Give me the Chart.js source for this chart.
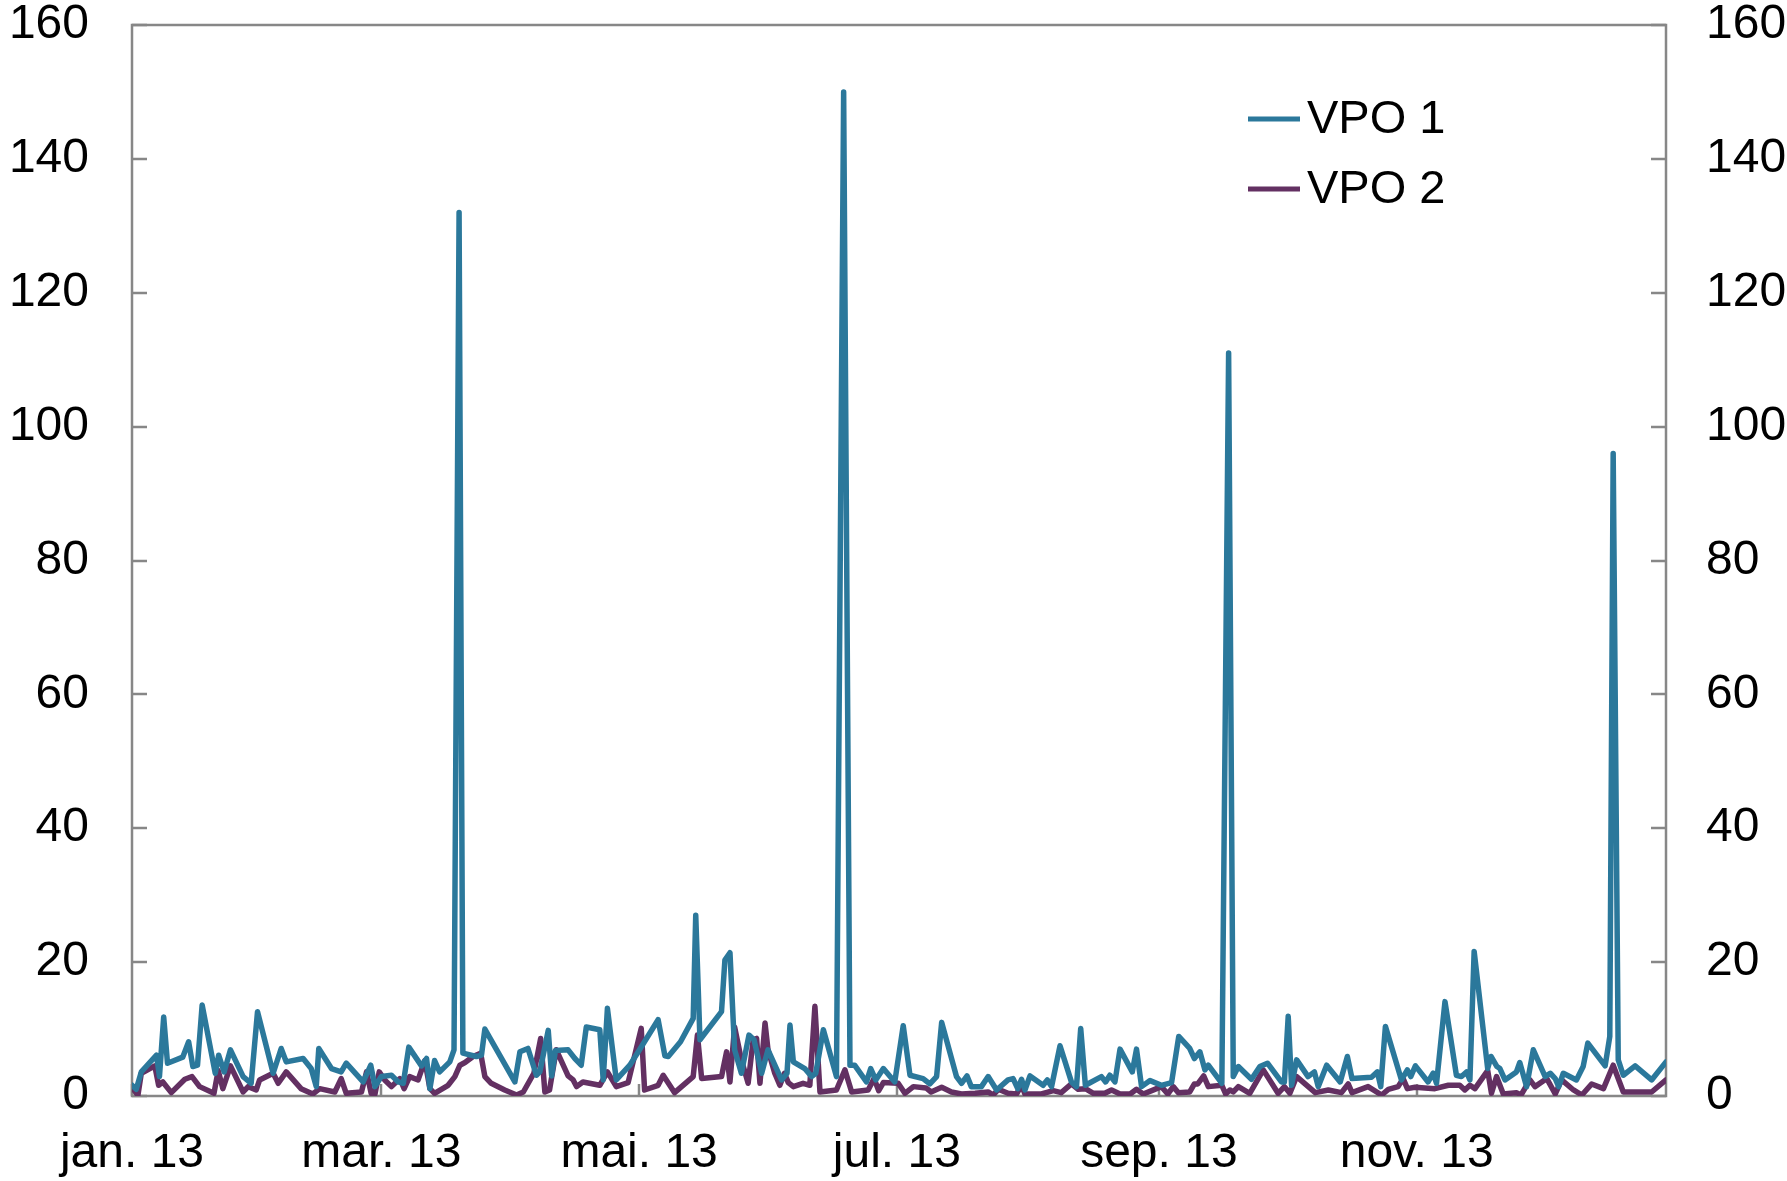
<!DOCTYPE html>
<html>
<head>
<meta charset="utf-8">
<script src="https://cdn.jsdelivr.net/npm/chart.js@4.4.1/dist/chart.umd.min.js"></script>
<style>
html,body{margin:0;padding:0;background:#fff;}
#wrap{width:1787px;height:1181px;}
</style>
</head>
<body>
<div id="wrap"><canvas id="c" width="1787" height="1181"></canvas></div>
<script>
// Day of year 2013 (0 = 1 Jan)
const vpo1Days = [0,1,2.2,5.8,6.5,7.5,8.4,12,13.4,14.4,15.5,16.6,19.7,20.5,21.8,23.3,26.3,28.2,29.7,33.4,35.3,36.5,40.5,42.4,43.6,44.2,47.2,49.5,50.7,
54.7,56.5,57.5,59,61.4,63,64.2,65.5,68.5,69.7,70.5,71.6,72.8,75.2,76.2,77.4,78.3,81.5,82.7,83.5,90.6,91.8,93.7,95.7,96.5,98.5,99.3,100.2,103.2,
104.8,106.3,107.5,110.7,111.5,112.5,114.6,117.8,120.1,124.5,126.1,126.9,129.8,132.8,133.4,134.4,139.5,140.3,141.5,142.6,144.2,146,147.2,149,150.5,153.7,155.0,
155.7,156.5,159.2,160.8,161.8,163.6,166.7,168.4,169.9,171,173.8,174.8,176,177.8,180.5,182.5,184.1,187.2,188.8,190.4,191.6,195.1,196.3,197.6,198.6,201,202.6,204.6,
207.3,208.5,209.6,210.5,211.3,212.5,215.6,216.6,217.6,219.6,222.3,223.5,224.5,225.6,229.4,230.4,231.4,232.6,233.8,236.7,237.7,238.9,240.9,243.6,246,247.7,250.3,251.4,252.7,253.9,254.7,257.9,259.5,
260.6,261.8,264.9,266.9,268.7,272,272.7,273.6,274.4,275.6,278.3,279.8,280.7,282.7,285.9,287.6,288.7,293.3,294.7,295.5,296.6,300.4,301.8,302.6,303.7,306.7,307.9,308.7,310.7,
313.4,314.6,315.8,316.6,317.6,320.8,321.6,323,323.7,324.9,327.6,328.4,330,331.6,334.4,335.6,336.8,337.6,338.7,341.8,343.4,344.5,348.6,349.7,350.5,351.7,352.9,355.7,359.6,363];
const vpo1Values = [1.6,1.0,3.6,6.1,2.9,11.8,4.9,5.8,8.1,4.4,4.6,13.6,3.4,6.1,3.6,6.9,2.9,1.9,12.6,3.4,7.1,5.1,5.6,4.1,1.4,7.1,4.1,3.6,4.9,
2.1,4.6,1.4,2.9,3.1,2.1,1.9,7.3,4.5,5.6,1.1,5.3,3.6,5.1,6.9,132,6.4,5.9,6.1,10.0,2.1,6.6,7.1,3.1,3.6,9.8,3.0,6.8,6.9,
5.6,4.6,10.3,9.9,2.4,13.1,2.4,4.6,6.9,11.4,6.0,5.9,8.1,11.6,27,8.4,12.6,20.3,21.4,6.9,3.4,9.1,8.4,3.4,6.9,2.4,3.4,
10.6,5.1,4.1,2.9,3.4,9.9,2.9,150,4.6,4.6,2.1,4.1,2.4,4.1,2.1,10.5,3.1,2.6,1.8,2.9,11.0,2.9,1.9,3.0,1.4,1.4,2.9,0.9,
2.4,2.6,1.1,2.5,0.9,3.0,1.6,2.4,1.4,7.5,2.1,1.4,10.1,1.6,2.9,2.1,3.1,2.1,7.0,3.6,7.0,1.4,2.3,1.6,2.0,8.9,7.1,5.6,6.6,3.9,4.6,1.9,111,
2.9,4.4,2.5,4.4,4.9,2.1,2.1,11.9,1.6,5.4,2.9,3.6,1.4,4.6,2.1,5.9,2.6,2.8,3.6,1.4,10.4,2.4,3.9,2.9,4.5,2.1,3.4,1.9,14.1,
3.1,2.9,3.6,2.4,21.6,4.1,5.9,4.4,4.1,2.4,3.6,5.0,1.4,6.9,2.9,3.4,2.6,1.4,3.4,2.4,4.4,7.9,4.5,8.9,96,5.4,3.1,4.5,2.4,5.1];

const vpo2Days = [0.2,1.4,2.2,5.4,6.3,7.3,9.3,12.5,14.2,16,19.4,20.4,21.5,23.3,26.3,27.5,29.4,30.2,33.4,34.6,36.5,40,42.8,44.4,48,49.5,50.7,
54.3,55.5,56.6,57.5,58.5,59.8,61.4,63.4,64.4,65.7,67.7,69.3,70.5,71.6,74.8,76.4,77.6,78.8,80.7,82.5,83.5,85,88.2,91,92.6,95.1,96.7,97.7,98.8,100.4,103.2,
104.4,105.2,106.7,110.7,112.5,114.6,117.4,120.5,121.3,124.5,125.7,128.4,132.8,133.8,134.8,139.5,140.7,141.5,142.6,144.2,145.8,147,147.8,148.6,149.8,150.5,152.1,153.3,154.4,155.3,
156.5,158.8,160.4,161.6,162.8,166.7,168.7,170.3,174.2,175.6,176.7,177.8,181.3,182.9,184.9,187.9,189.1,191.6,193.9,196.3,199.5,202.6,203.8,205,
207.3,209.3,210.5,211.3,215.2,218,219.9,222.3,223.9,225.6,227.5,230.2,231.8,233.8,236.2,237.7,239.3,241.3,243.6,245.1,246.4,247.6,250.3,251.4,252.2,253.6,254.7,257.9,258.8,
259.8,260.6,261.8,264.5,267.7,271.2,272.7,274,275.6,280,283.1,286.2,287.8,288.7,292.5,295.7,297.3,299.6,300.8,301.8,303.6,308.3,311.5,
314.2,315.4,316.6,317.8,320.8,321.7,322.9,324.5,327.6,328.7,330.8,332,334.8,336.8,338.3,341.1,343.1,345.4,348.2,350.5,352.9,359.6,363];
const vpo2Values = [1.1,0.1,3.4,4.5,1.6,2.1,0.5,2.5,2.9,1.4,0.4,3.8,1.1,4.5,0.6,1.4,0.9,2.4,3.4,1.9,3.6,1.1,0.3,1.1,0.6,2.6,0.4,
0.6,3.6,0.4,0.3,3.6,2.4,1.4,2.6,1.1,2.9,2.4,5.3,1.1,0.4,1.6,2.9,4.6,5.0,5.9,6.4,2.9,1.9,0.9,0.15,0.6,3.4,8.6,0.6,0.9,6.9,3.0,
2.4,1.4,2.1,1.6,3.6,1.4,2.0,10.1,0.9,1.6,3.1,0.5,2.9,9.1,2.6,2.9,6.6,2.1,10.3,5.4,1.9,8.4,8.6,1.9,10.9,6.9,3.4,1.6,3.4,2.0,
1.4,1.9,1.6,13.4,0.6,0.9,3.9,0.6,0.9,2.6,0.8,2.0,1.9,0.4,1.4,1.2,0.6,1.3,0.6,0.3,0.4,0.6,0.15,1.0,
0.4,0.3,1.6,0.3,0.3,0.8,0.5,1.8,1.0,1.1,0.4,0.4,0.9,0.3,0.3,1.0,0.3,0.8,1.4,0.3,1.4,0.5,0.6,1.8,1.8,3.0,1.4,1.6,0.3,
0.9,0.6,1.4,0.4,3.9,0.4,1.4,0.4,2.9,0.5,0.9,0.5,1.8,0.5,1.4,0.15,1.0,1.4,2.6,1.1,1.3,1.1,1.6,
1.6,0.9,1.6,1.1,3.8,0.4,2.9,0.3,0.5,0.15,2.4,1.4,2.6,0.3,2.4,0.9,0.15,1.8,1.1,4.6,0.6,0.6,2.4];

const seriesNames = ['VPO 1', 'VPO 2'];
const monthTickDays = [0, 59, 120, 181, 243, 304];
const monthTickLabels = ['jan. 13', 'mar. 13', 'mai. 13', 'jul. 13', 'sep. 13', 'nov. 13'];
const yMin = 0, yMax = 160, yStep = 20;

const FONT = '"Liberation Sans", Arial, sans-serif';
const AXIS_COLOR = '#878787';
const COLORS = ['#2b789b', '#633062'];

const toPoints = (days, vals) => days.map((d, i) => ({x: d, y: vals[i]}));

const framePlugin = {
  id: 'frame',
  beforeDatasetsDraw(chart) {
    const {ctx, chartArea: a, scales} = chart;
    ctx.save();
    ctx.strokeStyle = AXIS_COLOR;
    ctx.lineWidth = 2.5;
    ctx.strokeRect(a.left, a.top, a.right - a.left, a.bottom - a.top);
    const tl = 15;
    ctx.beginPath();
    scales.y.ticks.forEach(t => {
      const py = Math.round(scales.y.getPixelForValue(t.value));
      ctx.moveTo(a.left, py); ctx.lineTo(a.left + tl, py);
      ctx.moveTo(a.right, py); ctx.lineTo(a.right - tl, py);
    });
    scales.x.ticks.forEach(t => {
      const px = Math.round(scales.x.getPixelForValue(t.value));
      ctx.moveTo(px, a.bottom); ctx.lineTo(px, a.bottom - 12);
    });
    ctx.stroke();
    ctx.restore();
  }
};

const legendPlugin = {
  id: 'inlineLegend',
  afterDatasetsDraw(chart) {
    const {ctx, chartArea: a} = chart;
    ctx.save();
    ctx.font = '47px ' + FONT;
    ctx.textBaseline = 'middle';
    ctx.textAlign = 'left';
    chart.data.datasets.forEach((ds, i) => {
      const y = a.top + 94 + i * 70;
      const x0 = a.left + 1116;
      ctx.strokeStyle = ds.borderColor;
      ctx.lineWidth = 5;
      ctx.beginPath();
      ctx.moveTo(x0, y); ctx.lineTo(x0 + 52, y);
      ctx.stroke();
      ctx.fillStyle = '#000';
      ctx.fillText(ds.label, x0 + 59, y + 1);
    });
    ctx.restore();
  }
};

const zeroPad = s => { s.paddingTop = 0; s.paddingBottom = 0; s.paddingLeft = 0; s.paddingRight = 0; };

new Chart(document.getElementById('c'), {
  type: 'line',
  data: {
    datasets: [
      {label: seriesNames[0], data: toPoints(vpo1Days, vpo1Values), borderColor: COLORS[0]},
      {label: seriesNames[1], data: toPoints(vpo2Days, vpo2Values), borderColor: COLORS[1]}
    ].map(d => Object.assign(d, {borderWidth: 5.5, pointRadius: 0, tension: 0, fill: false,
      borderJoinStyle: 'round', borderCapStyle: 'round', yAxisID: 'y'}))
  },
  options: {
    responsive: false,
    animation: false,
    devicePixelRatio: 1,
    layout: {padding: {top: 25, left: 0, right: 0, bottom: 0}},
    plugins: {legend: {display: false}, tooltip: {enabled: false}},
    scales: {
      x: {
        type: 'linear',
        min: 0, max: 363,
        grid: {display: false, drawTicks: false},
        border: {display: false},
        afterBuildTicks: s => { s.ticks = monthTickDays.map(v => ({value: v})); },
        afterFit: s => { s.height = 85; zeroPad(s); },
        ticks: {
          autoSkip: false, maxRotation: 0, padding: 29,
          color: '#000', font: {size: 48, family: FONT},
          callback: v => monthTickLabels[monthTickDays.indexOf(v)] ?? ''
        }
      },
      y: {
        position: 'left', min: yMin, max: yMax,
        grid: {display: false, drawTicks: false},
        border: {display: false},
        afterFit: s => { s.width = 132; zeroPad(s); },
        ticks: {stepSize: yStep, padding: 43, color: '#000', font: {size: 48, family: FONT}}
      },
      y2: {
        position: 'right', min: yMin, max: yMax, display: true,
        grid: {display: false, drawTicks: false},
        border: {display: false},
        afterFit: s => { s.width = 121; zeroPad(s); },
        ticks: {stepSize: yStep, padding: 40, color: '#000', font: {size: 48, family: FONT}}
      }
    }
  },
  plugins: [framePlugin, legendPlugin]
});
</script>
</body>
</html>
